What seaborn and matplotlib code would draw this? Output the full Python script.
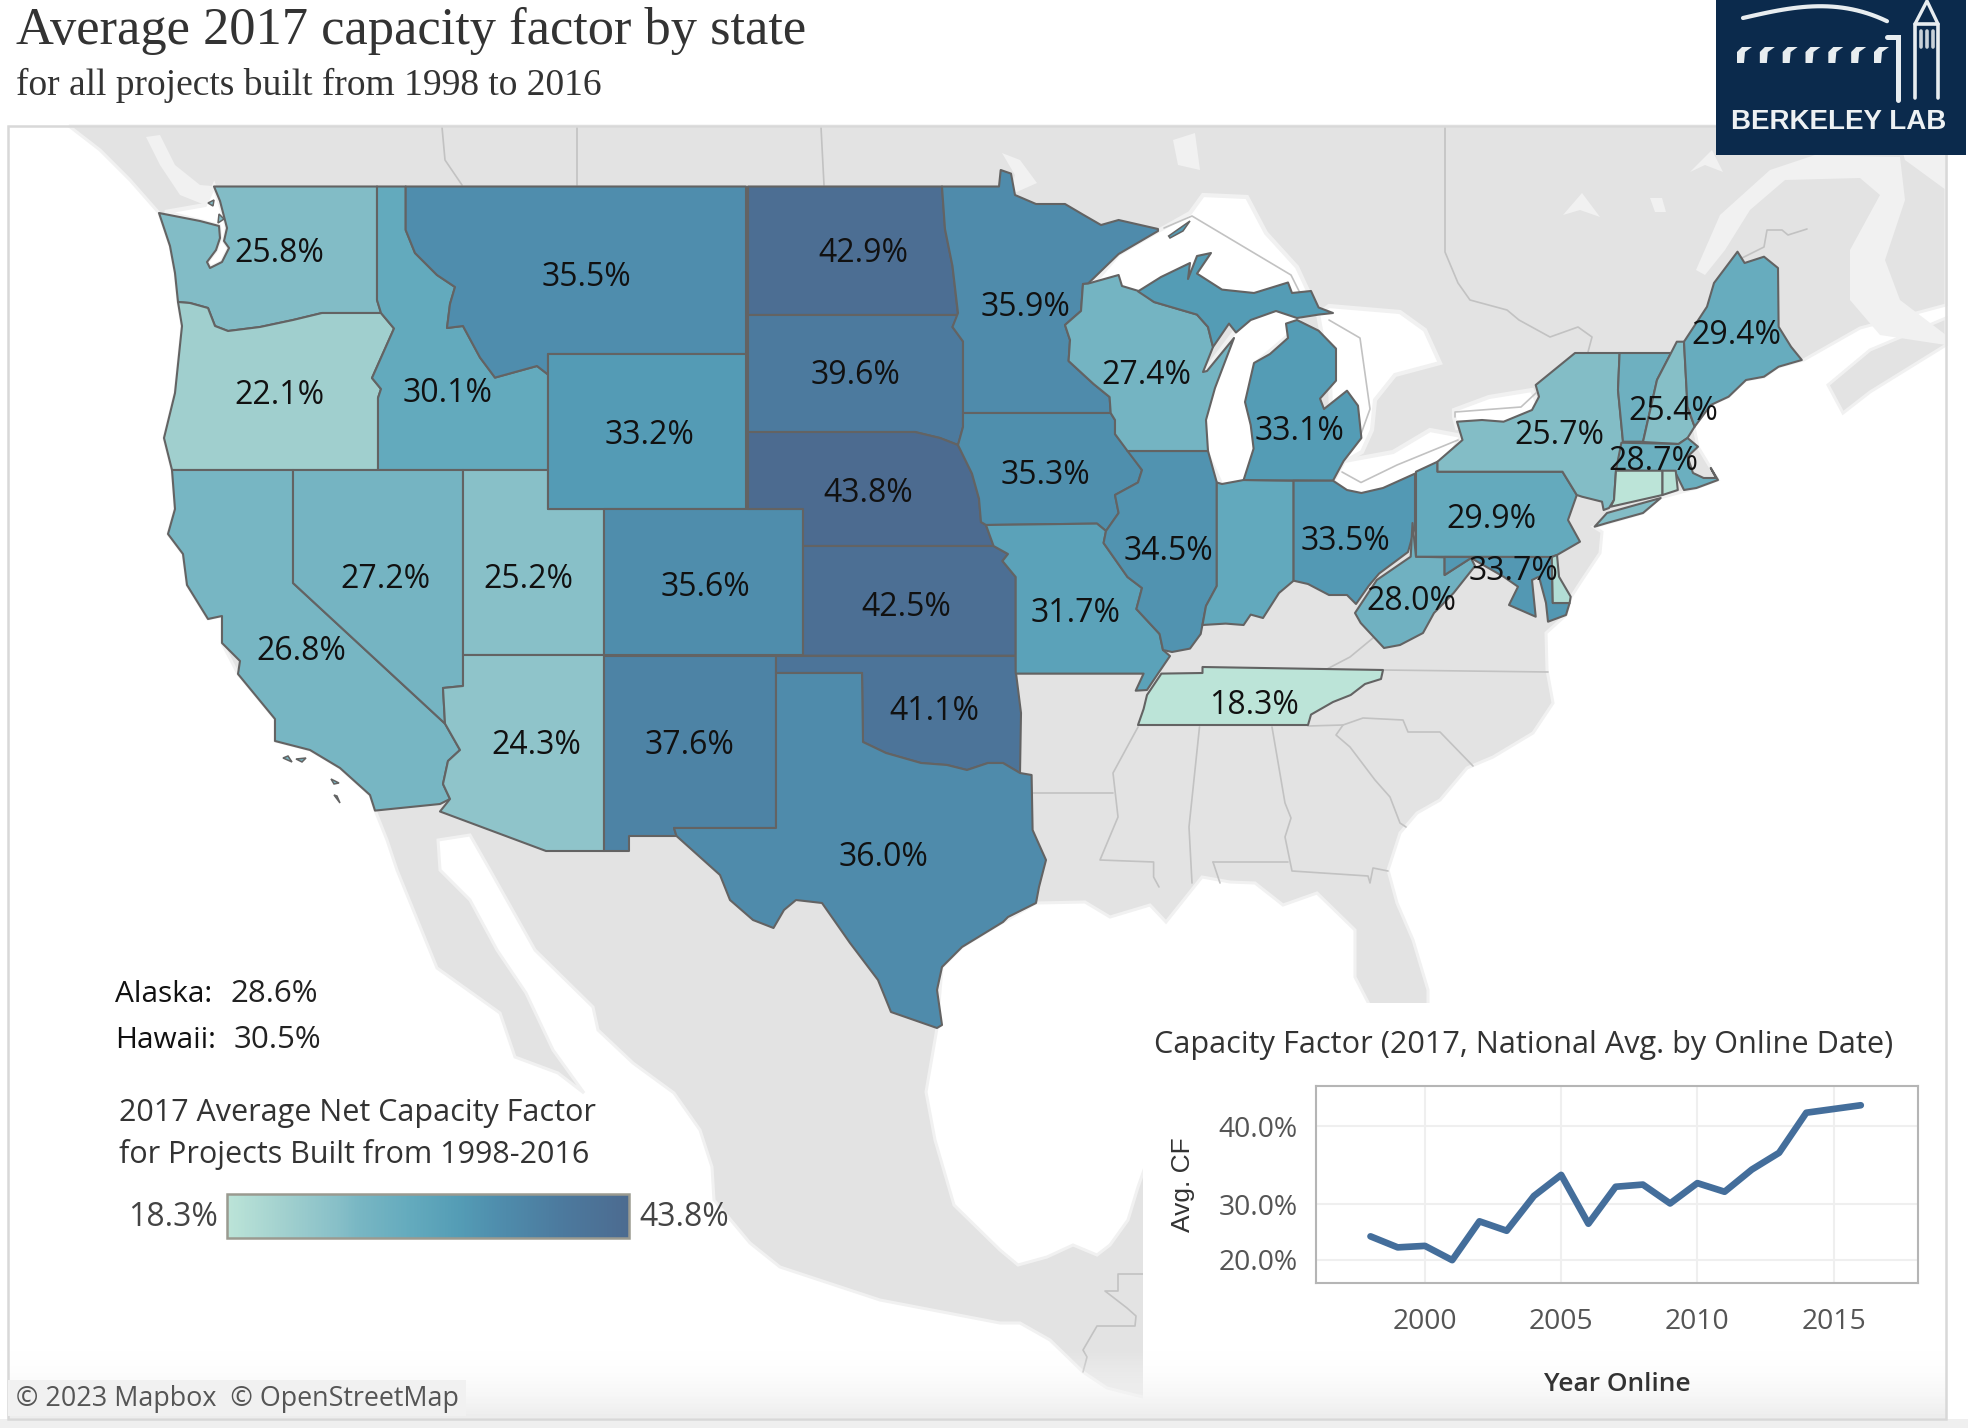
import numpy as np
import matplotlib
matplotlib.use("Agg")
import matplotlib.pyplot as plt
from matplotlib.colors import LinearSegmentedColormap, Normalize
from matplotlib.colorbar import ColorbarBase
from matplotlib.patches import Polygon, Rectangle
import seaborn as sns

# state values, None label means the reference shows no number for that state
STATES = ["WA", "OR", "CA", "ID", "NV", "UT", "AZ", "MT", "WY", "CO", "NM", "ND", "SD", "NE", "KS", "OK", "TX",
          "MN", "IA", "MO", "WI", "IL", "IN", "MI", "OH", "TN", "WV", "PA", "NY", "VT", "NH", "ME", "MA", "CT", "RI",
          "MD", "DE"]
CAPACITY = [25.8, 22.1, 26.8, 30.1, 27.2, 25.2, 24.3, 35.5, 33.2, 35.6, 37.6, 42.9, 39.6, 43.8, 42.5, 41.1, 36.0,
            35.9, 35.3, 31.7, 27.4, 34.5, 30.2, 33.1, 33.5, 18.3, 28.0, 29.9, 25.7, 28.3, 25.4, 29.4, 28.7, 18.3, 18.9,
            33.7, 19.6]
UNLABELED = ["IN", "VT", "CT", "RI", "DE"]

YEARS = list(range(1998, 2017))
NATIONAL_CF = [24.7, 22.6, 22.9, 19.9, 27.3, 25.7, 31.2, 34.1, 26.9, 32.5, 32.8, 30.1, 33.0, 31.8, 34.8, 36.9,
               41.5, 41.9, 42.3]

ALASKA_CF = 28.6
HAWAII_CF = 30.5

# anchor of each number on the map, in reference pixels
LABEL_POS = {"WA": (279, 253), "MT": (586, 277), "ND": (863, 253), "MN": (1025, 307), "OR": (279, 396),
             "ID": (448, 394), "WY": (649, 436), "SD": (856, 376), "WI": (1146, 376), "ME": (1736, 336),
             "NH": (1673, 411), "NY": (1559, 436), "MI": (1299, 431), "MA": (1653, 461), "IA": (1045, 476),
             "NE": (868, 494), "NV": (385, 579), "UT": (528, 579), "IL": (1168, 552), "OH": (1345, 542),
             "PA": (1491, 519), "MD": (1514, 572), "WV": (1411, 602), "CO": (705, 587), "KS": (906, 607),
             "MO": (1076, 613), "CA": (301, 651), "AZ": (536, 746), "NM": (690, 746), "OK": (934, 711),
             "TN": (1254, 705), "TX": (884, 857)}

# state outlines, in reference pixels
OUTLINES = {
    "WA": [(214, 186.5), (377, 186.5), (377, 300), (381, 313), (322, 313), (293, 320), (260, 327), (228, 331),
           (215, 326), (208, 308), (190, 303), (178, 302), (175, 273), (170, 246), (159, 213), (200, 221),
           (219, 226), (220, 238), (216, 250), (207, 262), (210, 268), (222, 262), (229, 248), (224, 241),
           (227, 228), (220, 201)],
    "OR": [(178, 302), (190, 303), (208, 308), (215, 326), (228, 331), (260, 327), (293, 320), (322, 313), (381, 313),
           (394, 328.5), (380, 360), (372, 378), (381, 389), (378, 398), (378, 470), (172, 470), (164, 438),
           (175, 393), (182, 326)],
    "CA": [(172, 470), (293, 470), (293, 583), (445, 723.6), (460, 750), (448, 761), (443, 784), (450, 799),
           (440, 804), (375, 810.6), (370, 795), (340, 768), (310, 750), (275, 741), (275, 719), (238, 674),
           (240, 661), (222, 643), (222, 616), (208, 619), (187, 585), (183, 554), (168, 534), (175, 509)],
    "ID": [(377, 186.5), (405.7, 186.5), (405.7, 230), (415, 253), (437, 275), (455, 287), (450, 304), (447, 328),
           (463, 326), (480, 357.5), (495, 377.6), (537, 366), (548, 374.5), (548, 470), (378, 470), (378, 398),
           (381, 389), (372, 378), (380, 360), (394, 328.5), (381, 313), (377, 300)],
    "NV": [(293, 470), (463, 470), (463, 686), (443, 688), (445, 723.6), (293, 583)],
    "UT": [(463, 470), (548, 470), (548, 509), (604, 509), (604, 655), (463, 655)],
    "AZ": [(463, 655), (604, 655), (604, 851), (546, 851), (440, 811.5), (450, 799), (443, 784), (448, 761),
           (460, 750), (445, 723.6), (443, 688), (463, 686)],
    "MT": [(405.7, 186.5), (746, 186.5), (746, 354), (548, 354), (548, 374.5), (537, 366), (495, 377.6), (480, 357.5),
           (463, 326), (447, 328), (450, 304), (455, 287), (437, 275), (415, 253), (405.7, 230)],
    "WY": [(548, 354), (746, 354), (746, 509), (548, 509)],
    "CO": [(604, 509), (803, 509), (803, 655), (604, 655)],
    "NM": [(604, 656), (776, 656), (776, 828), (674, 828), (676.5, 836), (629, 836), (629, 851), (604, 851)],
    "ND": [(748, 186.5), (942, 186.5), (945, 229), (952.5, 266), (958, 315), (748, 315)],
    "SD": [(748, 315), (958, 315), (952.5, 327), (963, 341.4), (963, 427), (958, 445), (940, 438), (915, 432),
           (748, 432)],
    "NE": [(748, 432), (915, 432), (940, 438), (958, 445), (972, 473.6), (979, 498.6), (981, 522), (986, 525),
           (993.6, 546), (803, 546), (803, 509), (748, 509)],
    "KS": [(803, 546), (993.6, 546), (1008, 554), (1002.5, 561), (1015.7, 577), (1015.7, 655.7), (803, 655.7)],
    "OK": [(776, 656), (1015.7, 656), (1016, 673), (1021, 713), (1020, 773), (1003, 763), (988, 763), (967, 770),
           (947, 765), (921, 763), (886, 753), (863, 742), (862, 673), (776, 673)],
    "TX": [(776, 673), (862, 673), (863, 742), (886, 753), (921, 763), (947, 765), (967, 770), (988, 763), (1003, 763),
           (1020, 773), (1031.6, 775), (1032.6, 830), (1046, 860), (1039, 887), (1036, 903), (1008, 917), (1003, 922),
           (962, 947), (942, 967), (937, 990), (942, 1025), (937, 1028), (891, 1012), (878, 980), (850, 943),
           (822, 903), (796, 900), (784, 910), (773.5, 928), (753, 920), (730, 900), (720, 875), (676.5, 836),
           (674, 828), (776, 828)],
    "MN": [(942, 186.5), (999, 186.5), (1000.7, 170), (1011, 173.6), (1015, 195), (1036, 204), (1065, 204),
           (1083, 214.6), (1101, 225), (1118.6, 220), (1158, 229), (1158, 231), (1118.6, 254), (1088, 283.6),
           (1083, 284), (1081, 311), (1065, 325), (1070, 340), (1068.6, 361), (1093.6, 384), (1109.6, 397),
           (1110.7, 413), (963, 413), (963, 341.4), (952.5, 327), (958, 313), (952.5, 266), (945, 229)],
    "IA": [(963, 413), (1110.7, 413), (1115, 420), (1115, 434), (1127.5, 450), (1142, 470), (1138, 482.5), (1115, 495),
           (1118.6, 513), (1106, 531), (1097, 523.6), (986, 525), (981, 522), (979, 498.6), (972, 473.6), (958, 445),
           (963, 427)],
    "MO": [(986, 525), (1097, 523.6), (1106, 531), (1103.6, 543), (1127.5, 577), (1142, 588), (1136.4, 609),
           (1159.6, 634), (1163, 650), (1170, 656), (1158, 673.6), (1147, 690), (1135.7, 690.7), (1143.6, 673.6),
           (1015.7, 673.6), (1015.7, 577), (1002.5, 561), (1008, 554), (993.6, 546)],
    "IL": [(1127.5, 451), (1208, 451), (1216.8, 482.5), (1216.8, 586), (1206, 606), (1200.7, 634), (1190, 648.6),
           (1172, 652), (1163, 650), (1159.6, 634), (1136.4, 609), (1142, 588), (1127.5, 577), (1103.6, 543),
           (1106, 531), (1118.6, 513), (1115, 495), (1138, 482.5), (1142, 470)],
    "WI": [(1083, 284), (1088, 283.6), (1118.6, 275), (1122, 286), (1140, 291.4), (1154, 302), (1197, 314.6),
           (1208, 327), (1213, 347), (1203, 372), (1207, 371), (1234, 338), (1215, 388), (1206, 420), (1208, 451),
           (1127.5, 451), (1115, 434), (1115, 420), (1110.7, 413), (1109.6, 397), (1093.6, 384), (1068.6, 361),
           (1070, 340), (1065, 325), (1081, 311)],
    "IN": [(1216.8, 482.5), (1222, 484), (1243.6, 480), (1293.6, 480.7), (1293.6, 580.7), (1279, 593), (1263, 618),
           (1250.7, 614.6), (1243.6, 625), (1225.7, 623.6), (1202.5, 625), (1206, 606), (1216.8, 586)],
    "MI_UP": [(1138, 291.4), (1161, 277), (1190, 263), (1188, 279), (1197, 256), (1211, 253), (1197, 273.6),
              (1222, 289.6), (1254, 293), (1288, 282.5), (1292, 293), (1311, 291), (1318.6, 307.5), (1333, 313),
              (1318.6, 314.6), (1297, 318), (1276, 311), (1250.7, 320), (1236, 332.5), (1229, 323.6), (1213, 347),
              (1208, 327), (1197, 314.6), (1154, 302)],
    "MI": [(1243.6, 480), (1253.6, 448.6), (1250.7, 425), (1245, 402), (1254, 363), (1270, 354), (1288, 338),
           (1286, 323.6), (1297, 320), (1318.6, 330.7), (1336, 348.6), (1336, 380.7), (1320, 398.6), (1324, 409),
           (1347, 390.7), (1358, 405.7), (1361.4, 438), (1343.6, 461), (1333, 480.7)],
    "OH": [(1293.6, 480.7), (1333, 480.7), (1347, 490), (1361.4, 493), (1383, 488), (1415, 473.6), (1415, 527),
           (1408, 552), (1379, 573.6), (1368.6, 586), (1356, 604), (1347, 595), (1329, 595), (1308, 584),
           (1293.6, 580.7)],
    "TN": [(1161.4, 673.6), (1202.5, 673), (1202.5, 667), (1383, 670), (1381, 679), (1365, 684), (1350.7, 695),
           (1333, 702), (1311, 714.6), (1308, 725), (1138, 725), (1143.6, 709), (1147, 695)],
    "WV": [(1412.5, 523), (1416, 556.7), (1444.6, 557.3), (1444.6, 575), (1471, 558), (1475, 566), (1453.6, 593),
           (1434, 613), (1423, 633), (1400, 645), (1384, 648), (1360.7, 623), (1355, 613), (1376.8, 580),
           (1410.7, 556.7)],
    "PA": [(1416, 471.7), (1437.5, 461.7), (1437.5, 471.7), (1562.5, 471.7), (1576.8, 495), (1568, 520), (1580, 541.7),
           (1557, 555), (1551, 557), (1416, 556.7)],
    "NY": [(1437.5, 471.7), (1437.5, 461.7), (1462.5, 440), (1457, 421.7), (1482, 420), (1503.6, 421.7), (1532, 410),
           (1539, 396.7), (1535.7, 385), (1575, 353), (1619.6, 353), (1618, 390), (1623, 441.7), (1616, 470),
           (1614, 500), (1609, 508), (1603.6, 510), (1602, 501.7), (1582, 496.7), (1576.8, 495), (1562.5, 471.7)],
    "NY_LI": [(1594.6, 526.7), (1607, 513), (1660.7, 498), (1643, 513), (1607, 523)],
    "VT": [(1619.6, 353), (1671, 353), (1657, 380), (1643, 441.7), (1623, 441.7), (1618, 390)],
    "NH": [(1671, 353), (1676.8, 341.7), (1684, 341.7), (1687.5, 406.7), (1694.6, 426.7), (1687.5, 438), (1678.6, 444),
           (1643, 442), (1657, 380)],
    "ME": [(1684, 341.7), (1707, 306.7), (1714, 283), (1737.5, 251.7), (1744.6, 263), (1764, 256.7), (1778, 268),
           (1778.6, 326.7), (1791, 346.7), (1801.8, 360), (1778.6, 366.7), (1764, 376.7), (1746, 380), (1728.6, 396.7),
           (1710.7, 405), (1694.6, 426.7), (1687.5, 406.7)],
    "MA": [(1621.4, 442.7), (1678.6, 444), (1687.5, 438), (1698, 446.7), (1687.5, 456.7), (1693, 473), (1703.6, 478),
           (1716, 478), (1710.7, 468), (1718, 480), (1696.4, 488), (1684, 490), (1675, 471.7), (1616, 470)],
    "CT": [(1616, 470.7), (1662.5, 470.7), (1662.5, 495), (1610.7, 506.7), (1614, 500)],
    "RI": [(1662.5, 470.7), (1675.7, 470.7), (1677.8, 490), (1662.5, 495)],
    "MD": [(1444.6, 557), (1551.8, 557), (1552.8, 603), (1569.6, 603), (1566, 615), (1548, 621.7), (1546, 603),
           (1539, 576.7), (1532, 580), (1535.7, 616.7), (1509, 605), (1518, 586.7), (1503.6, 576.7), (1471, 558),
           (1444.6, 575)],
    "DE": [(1551.8, 557), (1557, 555), (1559, 576.7), (1570.7, 596.7), (1569.6, 603), (1552.8, 603)],
}
# pieces of a state that are not their own entry
STATE_PARTS = {"MI_UP": "MI", "NY_LI": "NY"}
ISLANDS = [("MI", [(1168.6, 236), (1190, 221), (1183, 231), (1170, 238)]),
           ("CA", [(283, 758), (292, 762), (288, 756)]),
           ("CA", [(296, 759), (306, 758), (302, 762)]),
           ("CA", [(331, 779), (339, 783), (334, 784)]),
           ("CA", [(334, 795), (340, 803), (337, 796)]),
           ("WA", [(208, 203), (214, 200), (213, 206)]),
           ("WA", [(219, 214), (224, 219), (218, 223)])]

# basemap: land silhouette, water and the thin grey borders
LAND = [(69, 126), (1946, 126), (1946, 305), (1860, 328), (1803.6, 360), (1778, 367), (1764, 377), (1746, 380),
        (1728, 397), (1710, 405), (1694, 427), (1698, 447), (1718, 480), (1696, 488), (1660, 498), (1643, 513),
        (1594, 527), (1602, 532), (1600, 553), (1582, 580), (1571, 597), (1566, 615), (1546, 633), (1547, 670),
        (1553, 703), (1533, 733), (1493, 757), (1467, 768), (1440, 800), (1417, 813), (1400, 833), (1388, 870),
        (1397, 903), (1413, 940), (1428, 990), (1428, 1010), (1372, 1010), (1355, 977), (1355, 930), (1317, 893),
        (1283, 905), (1255, 883), (1230, 882), (1202, 877), (1166, 922), (1150, 905), (1110, 917), (1085, 902),
        (1036, 903), (1003, 922), (962, 947), (942, 967), (937, 1028), (926, 1092), (935, 1140), (954, 1205),
        (1000, 1250), (1018, 1265), (1047, 1257), (1073, 1245), (1097, 1255), (1110, 1245), (1128, 1220), (1138, 1187),
        (1144, 1170), (1160, 1170), (1160, 1400), (1143, 1397), (1107, 1388), (1083, 1372), (1050, 1340), (1020, 1323),
        (1000, 1323), (880, 1300), (780, 1267), (750, 1243), (714, 1200), (712, 1167), (700, 1130), (674, 1093),
        (633, 1063), (598, 1030), (593, 1007), (535, 950), (490, 870), (470, 835), (438, 840), (440, 870), (470, 900),
        (497, 950), (526, 993), (553, 1050), (584, 1093), (558, 1073), (515, 1057), (500, 1013), (437, 968), (397, 870),
        (387, 840), (375, 810), (370, 795), (340, 768), (310, 750), (275, 741), (275, 719), (238, 674), (222, 643),
        (222, 616), (208, 619), (187, 585), (183, 554), (168, 534), (175, 509), (172, 470), (164, 438), (175, 393),
        (182, 326), (178, 302), (175, 273), (170, 246), (159, 213), (130, 180), (100, 150)]
NOVA_SCOTIA = [(1828, 385), (1843, 413), (1870, 392), (1946, 345), (1946, 318), (1870, 350)]
LAKES = [
    [(1158, 231), (1190, 213), (1203, 195), (1247, 197), (1266, 233), (1297, 267), (1310, 295), (1292, 300),
     (1254, 300), (1222, 295), (1197, 280), (1161, 285), (1138, 300), (1122, 292), (1088, 290), (1118.6, 254)],
    [(1200, 425), (1208, 455), (1222, 486), (1246, 484), (1256, 448), (1252, 425), (1247, 402), (1256, 363),
     (1295, 330), (1300, 316), (1276, 309), (1250, 318), (1236, 330), (1204, 372)],
    [(1318, 314), (1329, 306), (1400, 312), (1425, 330), (1440, 363), (1395, 375), (1375, 400), (1372, 430),
     (1362, 452), (1344, 462), (1333, 480), (1330, 380)],
    [(1333, 481), (1344, 461), (1393, 452), (1430, 430), (1462, 436), (1440, 470), (1380, 495), (1350, 495)],
    [(1454, 417), (1454, 410), (1489, 397), (1532, 390), (1539, 407), (1528, 420), (1457, 428)],
    [(214, 186), (222, 210), (227, 228), (224, 241), (229, 248), (222, 262), (210, 268), (207, 262), (216, 250),
     (220, 238), (219, 226), (200, 221), (165, 212), (205, 205)],
]
PALE_WATER = [
    [(146, 137), (160, 135), (175, 165), (200, 185), (212, 186), (205, 205), (180, 195), (160, 165)],
    [(1173, 140), (1195, 133), (1200, 170), (1178, 165)],
    [(1002, 153), (1020, 160), (1037, 183), (1010, 195), (1015, 175)],
    [(1563, 215), (1582, 193), (1600, 217), (1580, 210)],
    [(1650, 198), (1662, 198), (1666, 212), (1655, 212)],
    [(1690, 172), (1712, 150), (1723, 172), (1705, 165)],
    [(1696, 270), (1720, 215), (1770, 170), (1815, 155), (1900, 157), (1905, 200), (1885, 260), (1900, 300),
     (1946, 335), (1946, 345), (1880, 335), (1850, 300), (1850, 250), (1880, 195), (1860, 178), (1785, 180),
     (1750, 210), (1725, 250), (1705, 275)],
    [(1946, 126), (1946, 190), (1905, 160), (1895, 126)],
]
BORDERS = [
    [(442, 127), (445, 160), (462, 185)], [(577, 127), (577, 185)], [(821, 127), (824, 185)],
    [(1445, 127), (1445, 252), (1458, 283), (1470, 300), (1507, 310), (1519, 320), (1550, 337), (1578, 327),
     (1592, 337), (1588, 352)],
    [(1742, 258), (1764, 247), (1767, 230), (1782, 230), (1788, 235), (1807, 229)],
    [(1164, 228), (1192, 216), (1291, 275), (1300, 293)],
    [(1329, 320), (1360, 338), (1370, 409), (1361, 434)],
    [(1342, 472), (1361, 482.5), (1397, 465), (1458, 440)],
    [(1455, 417), (1455, 412), (1521, 407), (1536, 393)],
    [(1383, 670), (1548, 672)], [(1373, 638), (1350, 657), (1327, 669)],
    [(1308, 726), (1343, 725), (1363, 718), (1403, 720), (1408, 732), (1440, 732), (1473, 766)],
    [(1343, 725), (1336, 735), (1350, 747), (1375, 780), (1390, 797), (1400, 823), (1406, 827)],
    [(1272, 727), (1285, 803), (1291, 818), (1285, 837), (1292, 871), (1368, 876), (1370, 883), (1373, 868),
     (1388, 871)],
    [(1213, 862), (1288, 862)], [(1213, 862), (1220, 883)],
    [(1199.5, 727), (1189, 827), (1192, 883)],
    [(1138, 727), (1113, 773), (1118, 817), (1100, 860), (1153.6, 862), (1153.6, 877), (1159, 887)],
    [(1032.6, 793), (1113, 793)], [(1016, 673.6), (1143, 673.6)],
    [(1144, 1274), (1118, 1274), (1118, 1291), (1105, 1291), (1127, 1308), (1136, 1316), (1135, 1326), (1097, 1326),
     (1083, 1350), (1087, 1357), (1083, 1372)],
]

# blue-teal ramp
RAMP_STOPS = [0, 0.15, 0.27, 0.33, 0.46, 0.58, 0.67, 0.83, 1]
RAMP_COLORS = ["#BCE4D8", "#A0CFCE", "#88C0C8", "#78B6C3", "#63AABD", "#549CB5", "#4F8EAD", "#4C7A9E", "#4C6B90"]

sns.set_theme(style="white")
plt.rcParams["font.family"] = ["Open Sans", "DejaVu Sans"]

W, H = 1968, 1428
fig = plt.figure(figsize=(W / 100, H / 100), dpi=100, facecolor="white")
ax = fig.add_axes([0, 0, 1, 1], zorder=0)
ax.set_xlim(0, W)
ax.set_ylim(H, 0)
ax.axis("off")

LAND_GREY = "#E3E3E3"
PALE = "#F1F1F1"

ax.add_patch(Polygon(LAND, closed=True, fc=LAND_GREY, ec=PALE, lw=2.2, zorder=1))
ax.add_patch(Polygon(NOVA_SCOTIA, closed=True, fc=LAND_GREY, ec=PALE, lw=2.2, zorder=1))
for pts in PALE_WATER:
    ax.add_patch(Polygon(pts, closed=True, fc=PALE, ec="none", zorder=1.5))
for pts in LAKES:
    ax.add_patch(Polygon(pts, closed=True, fc="white", ec=PALE, lw=3, zorder=2))
for pts in BORDERS:
    xs, ys = zip(*pts)
    ax.plot(xs, ys, color="#C2C2C2", lw=1.2, zorder=3, solid_joinstyle="round")

# states coloured through the value scale
cmap = LinearSegmentedColormap.from_list("blue_teal", list(zip(RAMP_STOPS, RAMP_COLORS)))
labeled = [v for s, v in zip(STATES, CAPACITY) if s not in UNLABELED]
norm = Normalize(min(labeled), max(labeled))
values = dict(zip(STATES, CAPACITY))
EDGE = "#636363"
for name, pts in OUTLINES.items():
    state = STATE_PARTS.get(name, name)
    ax.add_patch(Polygon(pts, closed=True, fc=cmap(norm(values[state])), ec=EDGE, lw=1.5, zorder=4,
                         joinstyle="round"))
for state, pts in ISLANDS:
    ax.add_patch(Polygon(pts, closed=True, fc=cmap(norm(values[state])), ec=EDGE, lw=1.1, zorder=4))

for state, (x, y) in LABEL_POS.items():
    ax.text(x, y, f"{values[state]:.1f}%", ha="center", va="center", fontsize=23, color="#111111", zorder=6)

# white panel behind the line chart, then frame and fade at the bottom edge
ax.add_patch(Rectangle((1143, 1003), 803, 417, fc="white", ec="none", zorder=5))
fade = np.ones((64, 2, 4))
fade[..., :3] = np.linspace(1, 0.93, 64)[:, None, None]
fade[..., 3] = np.linspace(0, 1, 64)[:, None]
ax.imshow(fade, extent=(8, 1946, 1418, 1350), aspect="auto", zorder=5.5)
ax.set_xlim(0, W)
ax.set_ylim(H, 0)
ax.add_patch(Rectangle((0, 1419), W, 9, fc="#EFEFEF", ec="none", zorder=5.6))
ax.add_patch(Rectangle((7.5, 126), 1938.5, 1293, fc="none", ec="#D8D8D8", lw=1.8, zorder=5.7))
ax.add_patch(Rectangle((8, 1380), 458, 36, fc="#F1F1F1", ec="none", zorder=5.8))
ax.text(16, 1399, "© 2023 Mapbox  © OpenStreetMap", ha="left", va="center", fontsize=19.4, color="#555555", zorder=6)

# headline
ax.text(16, 31, "Average 2017 capacity factor by state", ha="left", va="center", fontsize=37.8,
        family="Liberation Serif", color="#333333", zorder=6)
ax.text(16, 85, "for all projects built from 1998 to 2016", ha="left", va="center", fontsize=27,
        family="Liberation Serif", color="#333333", zorder=6)

# Berkeley Lab block
NAVY = "#0B2A4C"
ax.add_patch(Rectangle((1716, 0), 250, 155, fc=NAVY, ec="none", zorder=7))
arc_t = np.linspace(0, 1, 30)
ax.plot(1743 + 144 * arc_t, 18 - 17 * np.sin(np.pi * arc_t * 0.62) + 19 * arc_t ** 3,
        color="#E8EDF0", lw=3, zorder=8)
ax.plot([1887, 1898, 1898], [37, 37, 100], color="#E8EDF0", lw=3.6, zorder=8, solid_joinstyle="miter")
for wx in np.linspace(1737, 1874, 7):
    ax.add_patch(Polygon([(wx, 63), (wx, 52), (wx + 5, 47), (wx + 15, 47), (wx + 8, 52), (wx + 7, 63)],
                         closed=True, fc="#E8EDF0", ec="none", zorder=8))
ax.plot([1915, 1915, 1938, 1938], [98, 24, 24, 98], color="#E8EDF0", lw=2.6, zorder=8)
ax.plot([1915, 1927, 1938], [24, 1, 24], color="#E8EDF0", lw=2.4, zorder=8)
for bar_x in [1921, 1927, 1933]:
    ax.plot([bar_x, bar_x], [31, 47], color="#C8D1D8", lw=2.6, zorder=8)
ax.text(1839, 122, "BERKELEY LAB", ha="center", va="center", fontsize=20, fontweight="bold", color="#EDF1F3",
        family=["Liberation Sans Narrow", "Liberation Sans"], zorder=8)

# Alaska and Hawaii sit outside the map
ax.text(115, 994, "Alaska:", ha="left", va="center", fontsize=21.5, color="#111111", zorder=6)
ax.text(230, 994, f"{ALASKA_CF:.1f}%", ha="left", va="center", fontsize=22.5, color="#222222", zorder=6)
ax.text(115, 1040, "Hawaii:", ha="left", va="center", fontsize=21.5, color="#111111", zorder=6)
ax.text(234, 1040, f"{HAWAII_CF:.1f}%", ha="left", va="center", fontsize=22.5, color="#222222", zorder=6)

# legend
ax.text(119, 1113, "2017 Average Net Capacity Factor", ha="left", va="center", fontsize=22, color="#333333", zorder=6)
ax.text(119, 1154, "for Projects Built from 1998-2016", ha="left", va="center", fontsize=22, color="#333333", zorder=6)
cax = fig.add_axes([226.5 / W, 1 - 1238 / H, 402.5 / W, 44 / H], zorder=2)
cbar = ColorbarBase(cax, cmap=cmap, norm=norm, orientation="horizontal")
cbar.set_ticks([])
cbar.outline.set_edgecolor("#9A9A90")
cbar.outline.set_linewidth(1.8)
ax.text(217.5, 1217, f"{norm.vmin:.1f}%", ha="right", va="center", fontsize=23, color="#444444", zorder=6)
ax.text(639, 1217, f"{norm.vmax:.1f}%", ha="left", va="center", fontsize=23, color="#444444", zorder=6)

# national line chart, its y axis is stretched upward in the reference
ax.text(1154, 1045, "Capacity Factor (2017, National Avg. by Online Date)", ha="left", va="center", fontsize=22.1,
        color="#333333", zorder=6)
ins = fig.add_axes([1316 / W, 1 - 1283 / H, 602 / W, 197 / H], zorder=3)
ins.set_yscale("function", functions=(lambda v: np.square(v), lambda v: np.sqrt(np.maximum(v, 0))))
sns.lineplot(x=YEARS, y=NATIONAL_CF, ax=ins, color="#446E9B", lw=4.8, solid_capstyle="round", solid_joinstyle="round")
ins.set_xlim(1996.0, 2018.1)
ins.set_ylim(13.8, 44.3)
ins.set_xticks([2000, 2005, 2010, 2015])
ins.set_yticks([20, 30, 40])
ins.minorticks_off()
ins.set_yticklabels(["20.0%", "30.0%", "40.0%"])
ins.tick_params(axis="both", length=0, labelsize=20.3, labelcolor="#555555")
ins.tick_params(axis="y", pad=13)
ins.tick_params(axis="x", pad=18)
ins.grid(True, color="#EFEFEF", lw=1.5)
ins.set_axisbelow(True)
for side in ins.spines.values():
    side.set_edgecolor("#B5B5B5")
    side.set_linewidth(1.5)
ins.set_xlabel("Year Online", fontsize=19, color="#333333", fontweight=600, labelpad=26)
ins.set_ylabel("Avg. CF", fontsize=19, color="#333333", family="Liberation Sans", labelpad=17)

fig.savefig("out.png", dpi=100)
